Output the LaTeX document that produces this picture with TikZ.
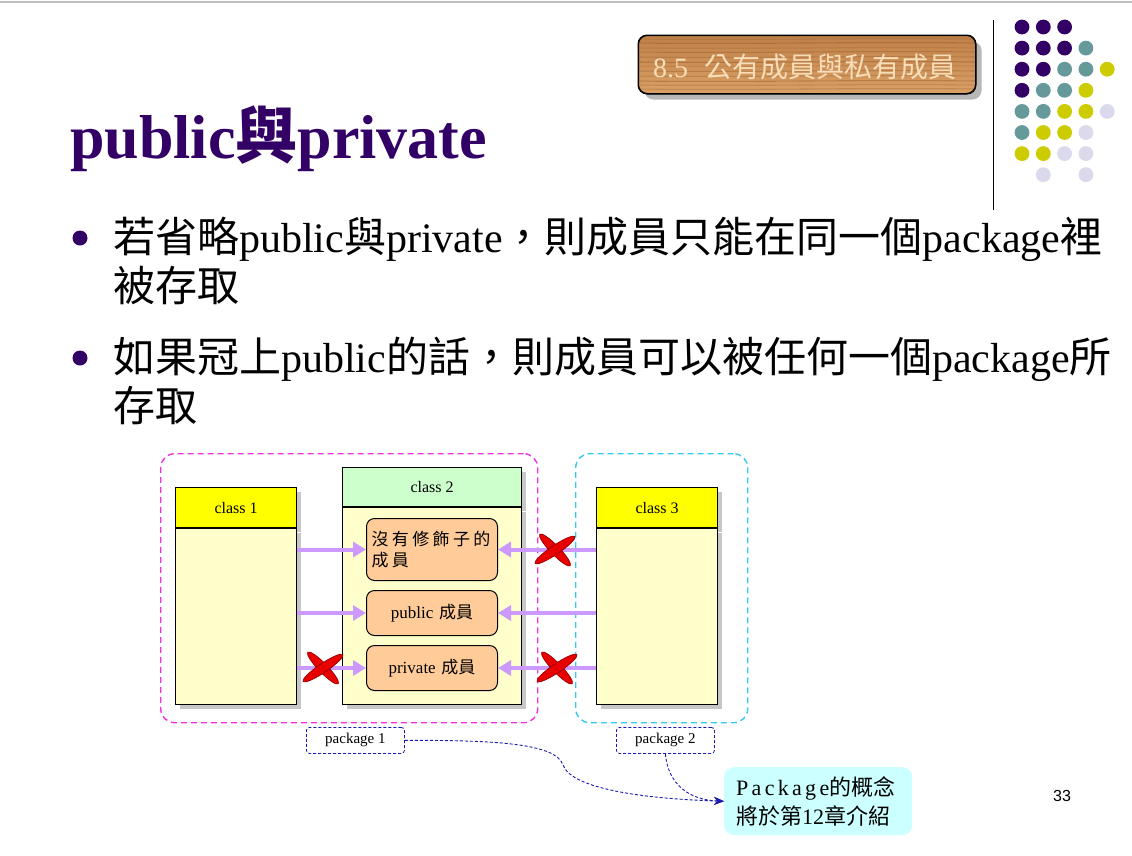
\documentclass[tikz,border=0pt]{standalone}
\usepackage{fontspec}
\setmainfont{Liberation Serif}
\newfontfamily\zh{Noto Sans CJK TC}
\newfontfamily\zhwide[LetterSpace=20]{Noto Sans CJK TC}
\newfontfamily\serifwide[LetterSpace=15]{Liberation Serif}
\newfontfamily\arialfont{Liberation Sans}
\usetikzlibrary{shadows,arrows.meta}

\definecolor{ttlPurple}{HTML}{330066}
\definecolor{dotP}{HTML}{330066}
\definecolor{dotT}{HTML}{669999}
\definecolor{dotY}{HTML}{CCCC00}
\definecolor{dotL}{HTML}{DADAEC}
\definecolor{hdrYellow}{HTML}{FFFF00}
\definecolor{bodyYellow}{HTML}{FFFFCC}
\definecolor{hdrGreen}{HTML}{CCFFCC}
\definecolor{memberPeach}{HTML}{FFCC99}
\definecolor{arrowLav}{HTML}{CC99FF}
\definecolor{pkgMagenta}{HTML}{EE33DD}
\definecolor{pkgCyan}{HTML}{33CCEE}
\definecolor{noteCyan}{HTML}{CCFFFF}
\definecolor{linkBlue}{HTML}{1A1AB0}
\definecolor{crossRed}{HTML}{E80000}
\definecolor{crossDark}{HTML}{990000}
\definecolor{woodLight}{HTML}{D9A066}
\definecolor{woodMid}{HTML}{C08148}
\definecolor{woodDark}{HTML}{8A5426}
\definecolor{woodText}{HTML}{F7DDB8}

\begin{document}
\begin{tikzpicture}[x=1pt,y=-1pt,
  boxshadow/.style={drop shadow={shadow xshift=4pt,shadow yshift=-4pt,fill=black!40,opacity=0.55}},
  classhead/.style={draw=black, line width=1.1pt, inner sep=0pt, anchor=north west,
    font=\fontsize{16}{16}\selectfont, boxshadow},
  classbody/.style={draw=black, line width=1.1pt, fill=bodyYellow, inner sep=0pt,
    anchor=north west, boxshadow},
  member/.style={draw=black, line width=1pt, fill=memberPeach, rounded corners=8pt,
    anchor=north west, inner xsep=5pt, inner ysep=0pt, font=\fontsize{17}{22}\selectfont},
  pkgbox/.style={dash pattern=on 6pt off 4pt, line width=1.4pt, rounded corners=14pt,
    anchor=north west, inner sep=0pt},
  pkglabel/.style={draw=linkBlue, dash pattern=on 3pt off 2pt, line width=0.8pt,
    rounded corners=3pt, fill=white, anchor=north west, inner sep=0pt,
    minimum width=98pt, minimum height=26pt, font=\fontsize{15}{15}\selectfont},
  access/.style={draw=arrowLav, line width=4pt, -{Triangle[length=13pt,width=15pt]}},
  link/.style={draw=linkBlue, dash pattern=on 3pt off 2pt, line width=0.9pt,
    -{Stealth[length=10pt,width=8pt]}},
  bodytext/.style={anchor=base west, inner sep=0pt, font=\fontsize{42}{49}\selectfont},
  crossmark/.pic={
    \filldraw[fill=crossRed, draw=crossDark, line width=0.7pt]
      (0,0) circle [x radius=22pt, y radius=4.5pt, rotate=-46];
    \filldraw[fill=crossRed, draw=crossDark, line width=0.7pt]
      (0,0) circle [x radius=24pt, y radius=4.5pt, rotate=34];
  }
]
\useasboundingbox (0,0) rectangle (1132,855);
\fill[white] (0,0) rectangle (1132,855);

% thin rule across the top edge
\draw[black!25, line width=2pt] (0,1.5) -- (1132,1.5);

% section banner with wood texture
\node[draw=black, line width=1pt, rounded corners=9pt, minimum width=337pt,
  minimum height=58pt, anchor=north west, inner sep=0pt,
  top color=woodMid, bottom color=woodLight,
  drop shadow={shadow xshift=6pt,shadow yshift=-6pt,fill=black!40,opacity=0.7}]
  (banner) at (638,35) {};
\begin{scope}
  \clip[rounded corners=9pt] (banner.north west) rectangle (banner.south east);
  \foreach \yy/\op in {39/0.25,43/0.4,48/0.2,52/0.35,57/0.3,62/0.45,66/0.2,
                       71/0.35,76/0.3,81/0.4,85/0.25,89/0.3}
    \draw[woodDark, opacity=\op, line width=1.1pt]
      (638,\yy) .. controls (750,\yy+1.5) and (860,\yy-1.5) .. (975,\yy);
\end{scope}
\draw[line width=1pt, rounded corners=9pt] (banner.north west) rectangle (banner.south east);
\node[anchor=base west, inner sep=0pt, text=woodText, font=\fontsize{28}{28}\selectfont]
  (bannerText) at (653,77) {8.5\hspace{16pt}{\zh 公有成員與私有成員}};

% divider and dot grid
\draw[black, line width=0.8pt] (993,20) -- (993,210);
\foreach \c/\r/\col in {
  0/0/dotP,1/0/dotP,2/0/dotP,
  0/1/dotP,1/1/dotP,2/1/dotP,3/1/dotT,
  0/2/dotP,1/2/dotP,2/2/dotT,3/2/dotT,4/2/dotY,
  0/3/dotP,1/3/dotT,2/3/dotT,3/3/dotY,
  0/4/dotT,1/4/dotT,2/4/dotY,3/4/dotY,4/4/dotL,
  0/5/dotT,1/5/dotY,2/5/dotY,3/5/dotL,
  0/6/dotY,1/6/dotY,2/6/dotL,3/6/dotL,
  1/7/dotL,3/7/dotL}
  \fill[\col] (1022+21.3*\c, 27+21.1*\r) circle (7.4pt);

% title
\node[anchor=base west, inner sep=0pt, text=ttlPurple,
  font=\fontsize{62}{62}\selectfont\bfseries] (title) at (70,158)
  {public{\zh\bfseries 與}private};

% bullet points
\fill[ttlPurple] (80,238) circle (7.5pt);
\node[bodytext] (b1a) at (113,252)
  {{\zh 若省略}public{\zh 與}private{\zh ，則成員只能在同一個}package{\zh 裡}};
\node[bodytext] (b1b) at (113,301) {{\zh 被存取}};
\fill[ttlPurple] (80,358) circle (7.5pt);
\node[bodytext] (b2a) at (113,372)
  {{\zh 如果冠上}public{\zh 的話，則成員可以被任何一個}package{\zh 所}};
\node[bodytext] (b2b) at (113,421) {{\zh 存取}};

% package frames
\node[pkgbox, draw=pkgMagenta, minimum width=377pt, minimum height=269pt] (pkg1) at (160,453) {};
\node[pkgbox, draw=pkgCyan, minimum width=172pt, minimum height=269pt] (pkg2) at (575,453) {};

% classes
\node[classhead, fill=hdrYellow, minimum width=121pt, minimum height=40pt] (c1h) at (175,487) {class 1};
\node[classbody, minimum width=121pt, minimum height=176pt] (c1) at (c1h.south west) {};
\node[classhead, fill=hdrGreen, minimum width=179pt, minimum height=39pt] (c2h) at (342,467) {class 2};
\node[classbody, minimum width=179pt, minimum height=197pt] (c2) at (c2h.south west) {};
\node[classhead, fill=hdrYellow, minimum width=121pt, minimum height=40pt] (c3h) at (596,487) {class 3};
\node[classbody, minimum width=121pt, minimum height=176pt] (c3) at (c3h.south west) {};

% members of class 2
\node[member, minimum width=131pt, minimum height=62pt, text width=121pt, align=left]
  (m1) at (366,518) {{\zhwide 沒有修飾子的}\\[-1pt]{\zhwide 成員}};
\node[member, minimum width=131pt, minimum height=45pt, text width=121pt, align=center]
  (m2) at (366,590) {public {\zh 成員}};
\node[member, minimum width=131pt, minimum height=45pt, text width=121pt, align=center]
  (m3) at (366,645) {private {\zh 成員}};

% access arrows
\draw[access] (c1.east |- m1.west) -- (m1.west);
\draw[access] (c1.east |- m2.west) -- (m2.west);
\draw[access] (c1.east |- m3.west) -- (m3.west);
\draw[access] (c3.west |- m1.east) -- (m1.east);
\draw[access] (c3.west |- m2.east) -- (m2.east);
\draw[access] (c3.west |- m3.east) -- (m3.east);

% denied accesses
\pic at (323,668) {crossmark};
\pic at (555,550) {crossmark};
\pic at (557,668) {crossmark};

% package labels and the note
\node[pkglabel] (p1l) at (306,727) {package 1};
\node[pkglabel] (p2l) at (616,727) {package 2};
\node[fill=noteCyan, rounded corners=10pt, anchor=north west, minimum width=188pt,
  minimum height=68pt, inner xsep=12pt, text width=164pt, align=left,
  font=\fontsize{22}{29}\selectfont] (note) at (724,767)
  {{\serifwide Package}{\zh 的概念}\\{\zh 將於第}12{\zh 章介紹}};
\draw[link] (p1l.east) .. controls (500,740) and (556,744) .. (563,765)
  .. controls (572,790) and (650,799) .. (note.west);
\draw[link] (p2l.south) .. controls (668,785) and (690,800) .. (note.west);

% page number
\node[font=\arialfont\fontsize{16}{16}\selectfont, inner sep=0pt] (pageno) at (1062,796) {33};
\end{tikzpicture}
\end{document}
